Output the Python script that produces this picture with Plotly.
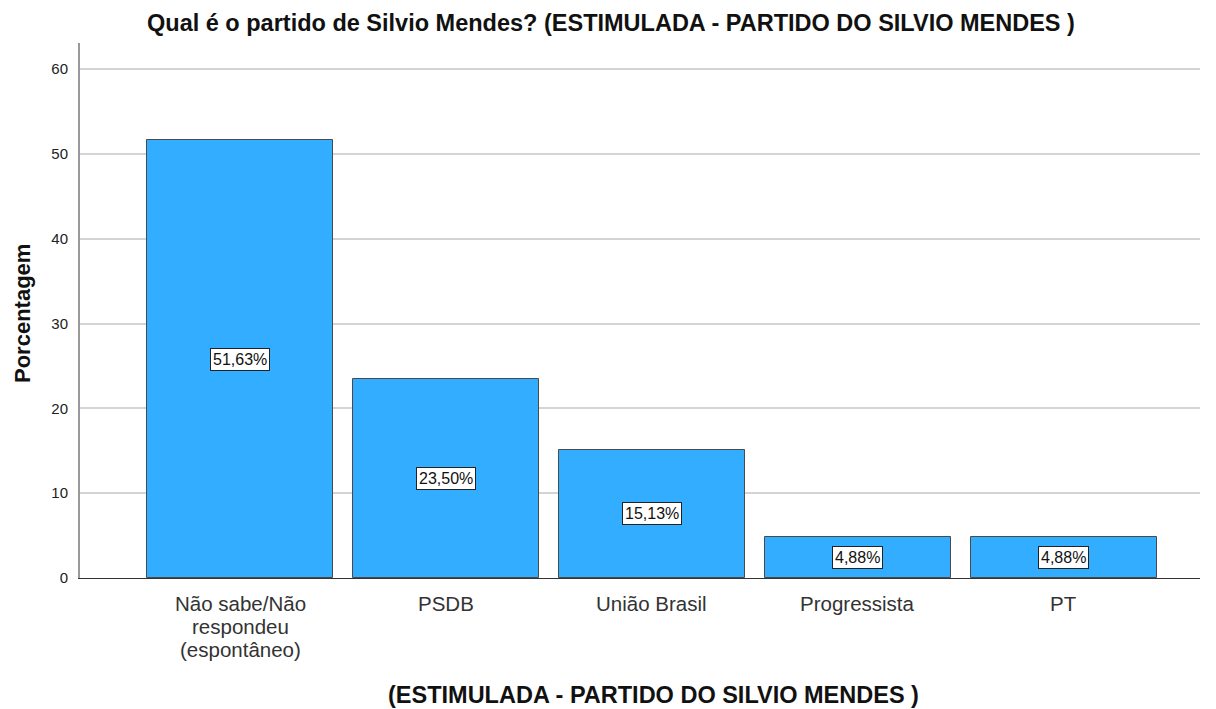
import plotly.graph_objects as go

categories = ["Não sabe/Não<br>respondeu<br>(espontâneo)", "PSDB", "União Brasil", "Progressista", "PT"]
values = [51.63, 23.50, 15.13, 4.88, 4.88]
labels = ["51,63%", "23,50%", "15,13%", "4,88%", "4,88%"]
y_ticks = [0, 10, 20, 30, 40, 50, 60]

FONT = "Arial, Liberation Sans, sans-serif"
xs = list(range(len(categories)))

fig = go.Figure()
fig.add_trace(go.Bar(
    x=xs, y=values, width=0.903,
    marker=dict(color="#33adff", line=dict(color="#4a4a4a", width=1)),
    hoverinfo="skip",
))

# value labels in boxes at the middle of each bar
for i, (v, t) in enumerate(zip(values, labels)):
    fig.add_annotation(
        x=i, y=v / 2, text=t, showarrow=False,
        font=dict(family=FONT, size=16, color="#111"),
        bgcolor="white", bordercolor="#222", borderwidth=1, borderpad=2,
    )

# category tick labels (tight line spacing)
for i, cat in enumerate(categories):
    for k, line in enumerate(cat.split("<br>")):
        fig.add_annotation(
            x=i, xref="x", y=0, yref="paper", yanchor="middle",
            yshift=-(25 + 23 * k), text=line, showarrow=False,
            font=dict(family=FONT, size=20.5, color="#333"),
        )

fig.update_layout(
    width=1216, height=709,
    margin=dict(l=80, r=16, t=43, b=131),
    paper_bgcolor="white", plot_bgcolor="white",
    showlegend=False,
    font=dict(family=FONT, color="#222"),
    bargap=0,
)
fig.update_xaxes(
    range=[-0.777, 4.662],
    tickmode="array", tickvals=xs, showticklabels=False,
    showgrid=False, zeroline=False,
    showline=True, linecolor="#333", linewidth=1,
    ticks="", fixedrange=True,
)
fig.update_yaxes(
    range=[0, 63.07],
    tickmode="array", tickvals=y_ticks, ticktext=[str(t) for t in y_ticks],
    tickfont=dict(family=FONT, size=15, color="#222"),
    showgrid=True, gridcolor="#d4d4d4", gridwidth=2,
    zeroline=False,
    showline=True, linecolor="#999", linewidth=2,
    ticks="", ticklabelstandoff=7, fixedrange=True,
)

fig.add_annotation(
    text="<b>Qual é o partido de Silvio Mendes? (ESTIMULADA - PARTIDO DO SILVIO MENDES )</b>",
    xref="paper", yref="paper", x=(611 - 80) / 1120, y=1, yshift=20, yanchor="middle",
    showarrow=False, font=dict(family=FONT, size=23.5, color="#111"),
)
fig.add_annotation(
    text="<b>(ESTIMULADA - PARTIDO DO SILVIO MENDES )</b>",
    xref="paper", yref="paper", x=(653 - 80) / 1120, y=0, yshift=-(695 - 578), yanchor="middle",
    showarrow=False, font=dict(family=FONT, size=23.5, color="#111"),
)
fig.add_annotation(
    text="<b>Porcentagem</b>",
    xref="paper", yref="paper", x=0, xshift=-58, y=(578 - 314) / 535, xanchor="center", yanchor="middle",
    textangle=-90, showarrow=False, font=dict(family=FONT, size=22, color="#111"),
)

fig.write_html("out.html", config={"displayModeBar": False},
               post_script="document.body.style.margin='0';")
